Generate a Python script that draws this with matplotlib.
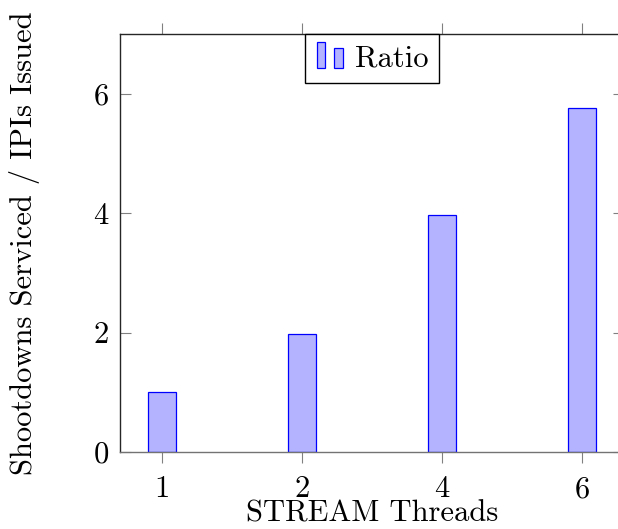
import matplotlib
matplotlib.use("Agg")
import matplotlib.pyplot as plt
from matplotlib.legend_handler import HandlerBase
from matplotlib.patches import Rectangle

threads = ["1", "2", "4", "6"]
ratio = [1.0, 1.98, 3.97, 5.76]

fill = (0.7, 0.7, 1.0)
edge = (0.0, 0.0, 1.0)
fs = 22

plt.rcParams["font.family"] = "cmr10"
plt.rcParams["axes.unicode_minus"] = False
plt.rcParams["axes.formatter.use_mathtext"] = True


class TwoBarHandler(HandlerBase):
    # pgfplots-like ybar legend: two little bars of different height
    def create_artists(self, legend, orig, xd, yd, width, height, fontsize, trans):
        w = width * 0.27
        r1 = Rectangle((xd + 0.05 * width, yd - 0.1 * height), w, height * 1.25,
                       facecolor=fill, edgecolor=edge, lw=0.9, transform=trans)
        r2 = Rectangle((xd + 0.62 * width, yd - 0.1 * height), w, height * 0.95,
                       facecolor=fill, edgecolor=edge, lw=0.9, transform=trans)
        return [r1, r2]


fig = plt.figure(figsize=(6.18, 5.29), dpi=100)
ax = fig.add_axes([120 / 618, 77 / 529, 504 / 618, 418 / 529])

x = list(range(len(threads)))
bars = ax.bar(x, ratio, width=0.193, color=fill, edgecolor=edge, linewidth=0.9,
              label="Ratio")

ax.set_xlim(-0.3, 3.3)
ax.set_ylim(0, 7)
ax.set_xticks(x)
ax.set_xticklabels(threads)
ax.set_yticks([0, 2, 4, 6])

ax.tick_params(axis="x", direction="out", length=8, width=0.8, color="0.5",
               top=True, labelsize=fs, pad=9)
ax.tick_params(axis="y", direction="in", length=8, width=0.8, color="0.5",
               right=True, labelsize=fs, pad=8)
for s in ax.spines.values():
    s.set_linewidth(1.0)
    s.set_color("0.15")
ax.spines["bottom"].set_color("0.45")
ax.spines["right"].set_visible(False)

ax.set_xlabel("STREAM Threads", fontsize=fs, labelpad=-2)
ax.set_ylabel("Shootdowns Serviced / IPIs Issued", fontsize=fs, labelpad=38)

ax.legend(handles=[bars], handler_map={type(bars): TwoBarHandler()},
          loc="upper center", bbox_to_anchor=(0.5, 1.0), fontsize=fs,
          frameon=True, fancybox=False, edgecolor="black", framealpha=1,
          handlelength=1.0, handletextpad=0.3, borderpad=0.35,
          borderaxespad=0)

fig.savefig("out.png", dpi=100)
